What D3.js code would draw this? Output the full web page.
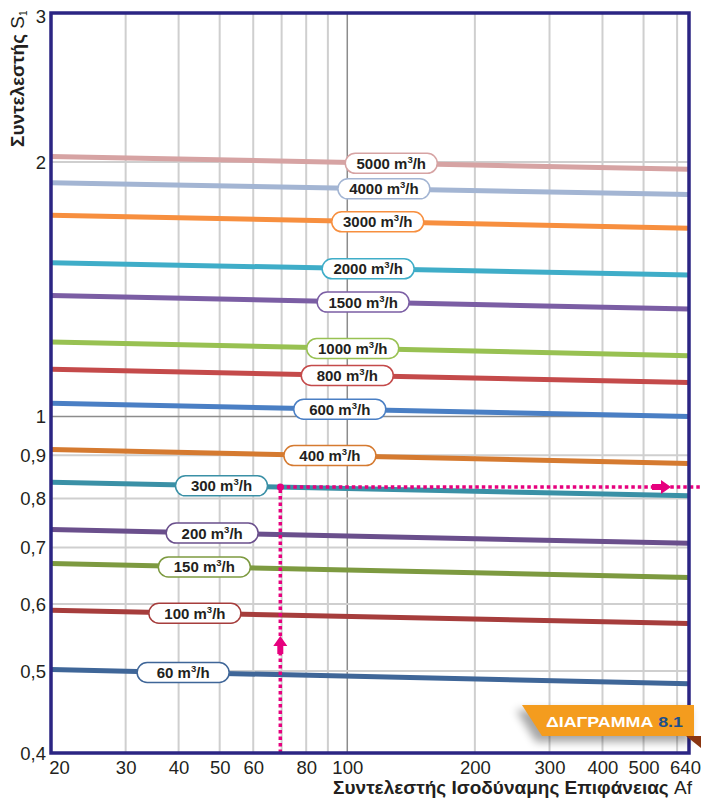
<!DOCTYPE html>
<html>
<head>
<meta charset="utf-8">
<script src="https://cdn.jsdelivr.net/npm/d3@7"></script>
<style>
  html, body { margin: 0; padding: 0; background: #fff; }
  svg { display: block; font-family: "Liberation Sans", Arial, sans-serif; }
</style>
</head>
<body>
<svg id="chart" width="701" height="801"></svg>
<script>
// flow rates (m3/h) and the coefficient S1 read at Af = 20 and Af = 640
const flows   = [5000, 4000, 3000, 2000, 1500, 1000, 800, 600, 400, 300, 200, 150, 100, 60];
const sAt20   = [2.03, 1.89, 1.73, 1.52, 1.39, 1.225, 1.137, 1.037, 0.914, 0.836, 0.735, 0.670, 0.590, 0.502];
const sAt640  = [1.96, 1.83, 1.67, 1.47, 1.34, 1.18, 1.097, 1.0, 0.88, 0.806, 0.708, 0.645, 0.569, 0.483];
const colors  = ["#d6a3a3", "#a3b5d3", "#f78f3f", "#3fadc8", "#7b5ea4", "#98c152", "#c44a4a", "#4a7fc4",
                 "#d57a30", "#3a90a6", "#6a4f8c", "#7d9a40", "#a63d3c", "#3f6698"];
// where each label sits along Af
const labelAf = [127, 122, 118, 112, 109, 103, 100, 96, 91, 50.5, 48, 46, 43.7, 41];

const xTicks = [20, 30, 40, 50, 60, 80, 100, 200, 300, 400, 500, 640];
const xGrid  = [30, 40, 50, 60, 70, 80, 90, 100, 200, 300, 400, 500, 600];
const yTicks = [0.4, 0.5, 0.6, 0.7, 0.8, 0.9, 1, 2, 3];
const yTickLabels = ["0,4", "0,5", "0,6", "0,7", "0,8", "0,9", "1", "2", "3"];
const yGrid  = [0.5, 0.6, 0.7, 0.8, 0.9, 1, 2];

// example reading: Af = 69.5 on the 300 m3/h line
const readAf = 69.5;
const readFlow = 300;

const svg = d3.select("#chart");
const pLeft = 51, pRight = 689, pTop = 13, pBottom = 753;

const x = d3.scaleLog().domain([20, 640]).range([pLeft, pRight]);
const y = d3.scaleLog().domain([0.4, 3]).range([pBottom, pTop]);

const defs = svg.append("defs");
defs.append("clipPath").attr("id", "plot")
  .append("rect").attr("x", pLeft).attr("y", pTop).attr("width", pRight - pLeft).attr("height", pBottom - pTop);
const sh = defs.append("filter").attr("id", "shadow").attr("x", "-20%").attr("y", "-50%").attr("width", "140%").attr("height", "200%");
sh.append("feGaussianBlur").attr("stdDeviation", 4);

// gridlines
const grid = svg.append("g");
grid.selectAll("line.vx").data(xGrid).enter().append("line")
  .attr("x1", d => x(d)).attr("x2", d => x(d))
  .attr("y1", pTop).attr("y2", pBottom)
  .attr("stroke", d => d === 100 ? "#8c8c8c" : "#cfcfcf")
  .attr("stroke-width", d => d === 100 ? 1.5 : 2);
grid.selectAll("line.hy").data(yGrid).enter().append("line")
  .attr("x1", pLeft).attr("x2", pRight)
  .attr("y1", d => y(d)).attr("y2", d => y(d))
  .attr("stroke", d => d === 1 ? "#8c8c8c" : "#cfcfcf")
  .attr("stroke-width", d => d === 1 ? 1.5 : 2);

// series lines (straight on log-log)
const series = flows.map((f, i) => ({
  flow: f, color: colors[i], a: sAt20[i], b: sAt640[i], labelAf: labelAf[i]
}));
const sAt = (s, af) => s.a * Math.pow(s.b / s.a, Math.log(af / 20) / Math.log(640 / 20));

const lineGen = d3.line().x(d => x(d[0])).y(d => y(d[1]));
svg.append("g").attr("clip-path", "url(#plot)")
  .selectAll("path").data(series).enter().append("path")
  .attr("d", s => lineGen([[20, s.a], [640, s.b]]))
  .attr("fill", "none")
  .attr("stroke", s => s.color)
  .attr("stroke-width", 5);

// reading lines
const pink = "#e6007e";
const rs = series.find(s => s.flow === readFlow);
const rx = x(readAf), ry = y(sAt(rs, readAf));
const ann = svg.append("g");
ann.append("line").attr("x1", rx).attr("x2", rx).attr("y1", pBottom).attr("y2", ry)
  .attr("stroke", pink).attr("stroke-width", 3.5).attr("stroke-dasharray", "3.5,3");
ann.append("line").attr("x1", rx).attr("x2", 701).attr("y1", ry).attr("y2", ry)
  .attr("stroke", pink).attr("stroke-width", 3.5).attr("stroke-dasharray", "3.5,3");
ann.append("circle").attr("cx", rx).attr("cy", ry).attr("r", 3.5).attr("fill", pink);
// up arrow
ann.append("path")
  .attr("d", `M${rx},636 L${rx + 7},646 L${rx + 3},646 L${rx + 3},654 L${rx - 3},654 L${rx - 3},646 L${rx - 7},646 Z`)
  .attr("fill", pink);
// right arrow
ann.append("path")
  .attr("d", `M671,${ry} L661,${ry - 7} L661,${ry - 3} L652,${ry - 3} L652,${ry + 3} L661,${ry + 3} L661,${ry + 7} Z`)
  .attr("fill", pink);

// labels
const lab = svg.append("g").selectAll("g").data(series).enter().append("g")
  .attr("transform", s => `translate(${x(s.labelAf)},${y(sAt(s, s.labelAf))})`);
lab.append("rect")
  .attr("x", -46).attr("y", -10).attr("width", 92).attr("height", 20).attr("rx", 10)
  .attr("fill", "#fff").attr("stroke", s => s.color).attr("stroke-width", 1.5);
const lt = lab.append("text").attr("text-anchor", "middle").attr("y", 5.5)
  .attr("font-size", 15).attr("font-weight", "bold").attr("fill", "#231f20");
lt.append("tspan").text(s => `${s.flow} m`);
lt.append("tspan").attr("dy", -6).attr("font-size", 9.5).text("3");
lt.append("tspan").attr("dy", 6).text("/h");

// axes
const xAxis = svg.append("g").attr("transform", `translate(0,${pBottom})`)
  .call(d3.axisBottom(x).tickValues(xTicks).tickFormat(d3.format("d")).tickSize(0).tickPadding(8));
xAxis.select(".domain").remove();
xAxis.selectAll("text").attr("font-size", 18.5).attr("fill", "#231f20")
  .attr("font-family", "Liberation Sans, Arial, sans-serif")
  .attr("dx", d => d === 20 ? 8 : d === 640 ? -4 : 0);

const yAxis = svg.append("g").attr("transform", `translate(${pLeft - 5},0)`)
  .call(d3.axisLeft(y).tickValues(yTicks).tickFormat((d, i) => yTickLabels[i]).tickSize(0).tickPadding(0));
yAxis.select(".domain").remove();
yAxis.selectAll("text").attr("font-size", 18.5).attr("fill", "#231f20")
  .attr("font-family", "Liberation Sans, Arial, sans-serif")
  .attr("dy", d => d === 3 ? "0.5em" : "0.34em");

// frame
svg.append("rect").attr("x", pLeft).attr("y", pTop).attr("width", pRight - pLeft).attr("height", pBottom - pTop)
  .attr("fill", "none").attr("stroke", "#2b2583").attr("stroke-width", 3.5);

// axis titles
svg.append("text").attr("x", 692).attr("y", 794).attr("text-anchor", "end")
  .attr("font-size", 19).attr("fill", "#231f20")
  .call(t => {
    t.append("tspan").attr("font-weight", "bold").text("Συντελεστής Ισοδύναμης Επιφάνειας");
    t.append("tspan").text(" Af");
  });
svg.append("text").attr("transform", "translate(24,147) rotate(-90)")
  .attr("font-size", 19).attr("fill", "#231f20")
  .call(t => {
    t.append("tspan").attr("font-weight", "bold").text("Συντελεστής");
    t.append("tspan").text(" S");
    t.append("tspan").attr("font-size", 10).attr("dy", 3).text("1");
  });

// badge
const badge = svg.append("g");
badge.append("path").attr("d", "M516,710 L690,710 L690,742 L536,742 Z")
  .attr("fill", "#000").attr("opacity", 0.35).attr("filter", "url(#shadow)");
badge.append("path").attr("d", "M686,736 L701,736 L701,748 Z").attr("fill", "#8a3510");
badge.append("path").attr("d", "M522,705 L694,705 L694,736 L542,736 Z").attr("fill", "#f49c1e");
badge.append("text").attr("x", 546).attr("y", 727)
  .attr("font-size", 14.5).attr("font-weight", "bold")
  .attr("textLength", 137).attr("lengthAdjust", "spacingAndGlyphs")
  .call(t => {
    t.append("tspan").attr("fill", "#fff").text("ΔΙΑΓΡΑΜΜΑ ");
    t.append("tspan").attr("fill", "#1b4f8c").text("8.1");
  });
</script>
</body>
</html>
